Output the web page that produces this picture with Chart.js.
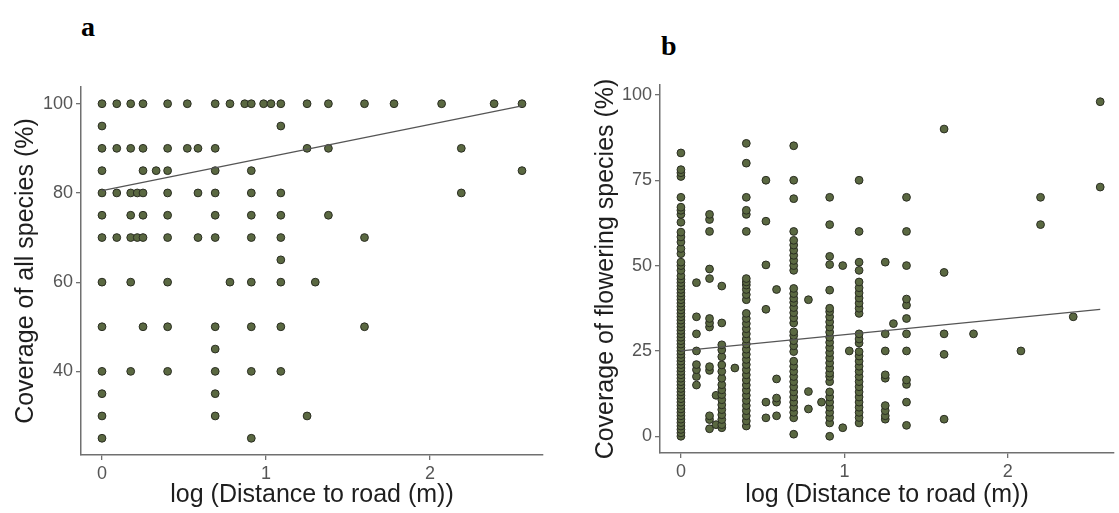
<!DOCTYPE html>
<html><head><meta charset="utf-8">
<script src="https://cdn.jsdelivr.net/npm/chart.js@4.4.1/dist/chart.umd.min.js"></script>
<style>
html,body{margin:0;padding:0;background:#fff;}
body{width:1119px;height:513px;position:relative;overflow:hidden;}
.pl{position:absolute;font-family:"Liberation Serif","Times New Roman",serif;font-weight:bold;font-size:28px;color:#000;line-height:1;}
canvas{position:absolute;top:0;}
</style></head><body>
<div class="pl" style="left:81px;top:13px;">a</div>
<div class="pl" style="left:661px;top:32px;">b</div>
<canvas id="ca" width="560" height="513" style="left:0px"></canvas>
<canvas id="cb" width="559" height="513" style="left:560px"></canvas>
<script>
// ---- tick labels ----
const xTicks = [0, 1, 2];
const yTicksA = [40, 60, 80, 100];
const yTicksB = [0, 25, 50, 75, 100];

// ---- panel a: each coverage value (y) with the log distances (x) of its points ----
const coverA = [100, 95, 90, 85, 80, 75, 70, 65, 60, 50, 45, 40, 35, 30, 25];
const distA = [
  [0, 0.09, 0.175, 0.25, 0.40, 0.52, 0.69, 0.78, 0.87, 0.91, 0.985, 1.03, 1.09, 1.25, 1.38, 1.60, 1.78, 2.07, 2.39, 2.56],
  [0, 1.09],
  [0, 0.09, 0.175, 0.25, 0.40, 0.52, 0.585, 0.69, 1.25, 1.38, 2.19],
  [0, 0.25, 0.33, 0.40, 0.69, 0.91, 2.56],
  [0, 0.09, 0.175, 0.215, 0.25, 0.40, 0.585, 0.69, 0.91, 1.09, 2.19],
  [0, 0.175, 0.25, 0.40, 0.69, 0.91, 1.09, 1.38],
  [0, 0.09, 0.175, 0.215, 0.25, 0.40, 0.585, 0.69, 0.91, 1.09, 1.60],
  [1.09],
  [0, 0.175, 0.40, 0.78, 0.91, 1.09, 1.30],
  [0, 0.25, 0.40, 0.69, 0.91, 1.09, 1.60],
  [0.69],
  [0, 0.175, 0.40, 0.69, 0.91, 1.09],
  [0, 0.69],
  [0, 0.69, 1.25],
  [0, 0.91]
];
const fitAx = [0, 2.56];
const fitAy = [80.5, 99.5];

// ---- panel b: each log distance (x) with the coverage values (y) of its points ----
const distB = [0, 0.095, 0.175, 0.215, 0.25, 0.33, 0.40, 0.52, 0.585, 0.69, 0.78, 0.86, 0.91, 0.99, 1.03, 1.09, 1.25, 1.30, 1.38, 1.61, 1.79, 2.08, 2.20, 2.40, 2.565];
const coverB = [
  [0,1,2,3,4,5,6,7,8,9,10,11,12,13,14,15,16,17,18,19,20,21,22,23,24,25,26,27,28,29,30,31,32,33,34,35,36,37,38,39,40,41,42,43,44,45,46,47,48.6,50,51,53.5,55,56.9,58.4,59.8,62.7,65,66.2,67.1,70,76.1,77.2,78.1,83],
  [15, 17.5, 19.5, 21, 25, 30, 35, 45],
  [2.2, 4.9, 6, 19.3, 20.4, 32, 33.2, 34.5, 46.2, 49, 60, 63.5, 65],
  [3.4, 12],
  [2.5, 3.4, 4.9, 6.3, 7.8, 9.2, 10.7, 12.2, 13.6, 15.1, 17, 19, 20.9, 23.3, 25.3, 26.8, 33.2, 44],
  [20],
  [3, 4.5, 6, 7.5, 9, 10.5, 12, 13.5, 15, 16.5, 18, 19.5, 21, 22.5, 24, 25.5, 27, 28.5, 30, 31.5, 33, 34.5, 36, 40, 41.5, 43, 44.3, 45.2, 46.2, 60, 65, 66.2, 70, 80, 85.8],
  [5.4, 10, 37.2, 50.2, 63, 75],
  [6, 10, 11.2, 16.8, 43],
  [0.6, 5.4, 7, 8.5, 10, 11.5, 13, 14.5, 16, 17.5, 19, 20.5, 22, 24.8, 26.5, 28, 29.5, 30.6, 33.2, 34.7, 36.2, 37.7, 39.2, 40.4, 41.8, 43.3, 48.6, 50, 51.5, 53, 54.5, 56, 57.4, 60, 69.6, 75, 85.1],
  [8, 13.1, 40],
  [10],
  [0, 3.9, 5.5, 7, 8.5, 10, 11.5, 13, 16, 17.5, 18.5, 20, 21.5, 23, 24.5, 26, 27.5, 29, 30.5, 32, 33.5, 35, 36.5, 37.5, 42.8, 50.3, 52.7, 62, 70],
  [2.5, 50],
  [25],
  [3.9, 5.5, 7, 8.5, 10, 11.5, 13, 14.5, 16, 17.5, 19, 20.5, 22, 23.5, 24.8, 27.3, 28.5, 30, 36, 37.5, 39, 40.5, 42, 43.5, 45.2, 48.6, 51, 60, 75],
  [5, 6, 7.5, 9, 17, 18, 25, 30, 51],
  [33],
  [3.2, 10, 15.2, 16.5, 25, 30, 34.5, 38.4, 40.2, 50, 60, 70],
  [5, 24, 30, 48, 90],
  [30],
  [25],
  [62, 70],
  [35],
  [73, 98]
];
const fitBx = [0, 2.565];
const fitBy = [25, 37.2];

// ---- styling ----
const FONT = "'Liberation Sans', Arial, sans-serif";
const AX = '#707070';
const TICK = '#555555';
const TITLE = '#1e1e1e';

function ptsA() {
  const p = [];
  coverA.forEach((y, i) => distA[i].forEach(x => p.push({x: x, y: y})));
  return p;
}
function ptsB() {
  const p = [];
  distB.forEach((x, i) => coverB[i].forEach(y => p.push({x: x, y: y})));
  return p;
}
function fitPts(xs, ys) { return xs.map((x, i) => ({x: x, y: ys[i]})); }

function makeChart(id, pts, fit, o) {
  return new Chart(document.getElementById(id), {
    type: 'scatter',
    data: {
      datasets: [
        {data: fit, showLine: true, borderColor: '#555555', borderWidth: 1.3, pointRadius: 0, pointHoverRadius: 0, fill: false},
        {data: pts, pointRadius: 3.9, pointHoverRadius: 3.9, backgroundColor: '#5a6841', borderColor: '#2a2d22', borderWidth: 1}
      ]
    },
    options: {
      responsive: false, animation: false, devicePixelRatio: 1,
      layout: {padding: o.pad},
      plugins: {legend: {display: false}, tooltip: {enabled: false}},
      scales: {
        x: {
          type: 'linear', min: o.xMin, max: o.xMax,
          afterBuildTicks: s => { s.ticks = xTicks.map(v => ({value: v})); },
          afterFit: s => { s.height = o.xH; },
          grid: {display: true, drawOnChartArea: false, drawTicks: true, tickLength: 5, color: AX, tickColor: AX, lineWidth: 1.3},
          border: {display: true, color: AX, width: 1.5},
          ticks: {color: TICK, font: {family: FONT, size: 18}, padding: 3, maxRotation: 0, autoSkip: false},
          title: {display: true, text: 'log (Distance to road (m))', color: TITLE, font: {family: FONT, size: 25}, padding: {top: 0, bottom: 3}}
        },
        y: {
          type: 'linear', min: o.yMin, max: o.yMax,
          afterBuildTicks: s => { s.ticks = o.yTicks.map(v => ({value: v})); },
          afterFit: s => { s.width = o.yW; },
          grid: {display: true, drawOnChartArea: false, drawTicks: true, tickLength: 5, color: AX, tickColor: AX, lineWidth: 1.3},
          border: {display: true, color: AX, width: 1.5},
          ticks: {color: TICK, font: {family: FONT, size: 18}, padding: 3, autoSkip: false},
          title: {display: true, text: o.yTitle, color: TITLE, font: {family: FONT, size: 25}, padding: {top: o.yTitlePad, bottom: 0}}
        }
      }
    }
  });
}

makeChart('ca', ptsA(), fitPts(fitAx, fitAy), {
  pad: {left: 0, top: 87, right: 17, bottom: 0},
  xMin: -0.128, xMax: 2.688, xH: 58,
  yMin: 21.25, yMax: 103.75, yTicks: yTicksA, yW: 81,
  yTitle: 'Coverage of all species (%)', yTitlePad: 11
});
makeChart('cb', ptsB(), fitPts(fitBx, fitBy), {
  pad: {left: 0, top: 85, right: 0, bottom: 0},
  xMin: -0.128, xMax: 2.65, xH: 60,
  yMin: -4.9, yMax: 102.9, yTicks: yTicksB, yW: 100,
  yTitle: 'Coverage of flowering species (%)', yTitlePad: 31
});
</script>
</body></html>
